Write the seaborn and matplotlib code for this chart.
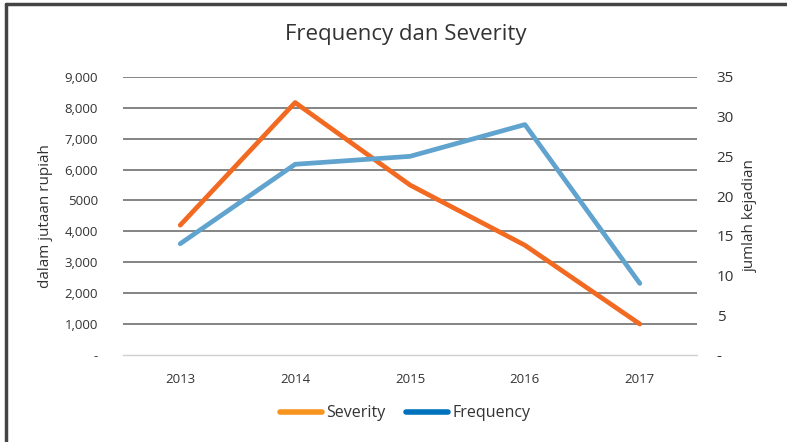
# Frequency dan Severity chart

import numpy as np
import pandas as pd
import matplotlib.pyplot as plt
import seaborn as sns
from matplotlib.lines import Line2D

# Data
years = ['2013', '2014', '2015', '2016', '2017']
severity = [4200, 8170, 5500, 3550, 1000]     # dalam jutaan rupiah
frequency = [14, 24, 25, 29, 9]               # jumlah kejadian

left_ticks = [0, 1000, 2000, 3000, 4000, 5000, 6000, 7000, 8000, 9000]
left_labels = ['-', '1,000', '2,000', '3,000', '4,000', '5000',
               '6,000', '7,000', '8,000', '9,000']
right_ticks = [0, 5, 10, 15, 20, 25, 30, 35]
right_labels = ['-', '5', '10', '15', '20', '25', '30', '35']

df = pd.DataFrame({'year': years, 'severity': severity, 'frequency': frequency})

sns.set_style('white')
plt.rcParams['font.family'] = ['Open Sans', 'DejaVu Sans']

fig = plt.figure(figsize=(7.87, 4.42), dpi=100)
ax = fig.add_axes([0.156, 0.197, 0.730, 0.629])
ax2 = ax.twinx()

sns.lineplot(data=df, x='year', y='severity', ax=ax, color='#F26A21',
             linewidth=3.4, sort=False)
sns.lineplot(data=df, x='year', y='frequency', ax=ax2, color='#5FA3CE',
             linewidth=3.4, sort=False)

ax.set_xlim(-0.5, 4.5)
ax.set_ylim(0, 9000)
ax2.set_ylim(0, 35)

ax.set_yticks(left_ticks)
ax.set_yticklabels(left_labels)
ax2.set_yticks(right_ticks)
ax2.set_yticklabels(right_labels)

# gridlines from the left axis
for t in left_ticks[1:]:
    ax.axhline(t, color='#6f6f6f', linewidth=1.2, zorder=0)

for a in (ax, ax2):
    for s in a.spines.values():
        s.set_visible(False)
ax.spines['bottom'].set_visible(True)
ax.spines['bottom'].set_color('#d0d0d0')
ax.spines['bottom'].set_linewidth(1.0)

ax.set_xticks(np.arange(len(years)))
ax.set_xticklabels(years)
ax.set_xticks(np.arange(-0.5, len(years), 1.0), minor=True)
ax.tick_params(axis='x', which='major', length=0, pad=13, labelsize=9.5, colors='#333333')
ax.tick_params(axis='x', which='minor', length=4, color='#d0d0d0', direction='out')
ax.tick_params(axis='y', length=0, pad=18, labelsize=9.5, colors='#333333')
ax2.tick_params(axis='y', length=0, pad=14, labelsize=11, colors='#333333')

ax.set_xlabel('')
ax.set_ylabel('dalam jutaan rupiah', fontsize=11, color='#333333', labelpad=8)
ax2.set_ylabel('jumlah kejadian', fontsize=11, color='#333333', labelpad=6)

fig.suptitle('Frequency dan Severity', x=0.515, y=0.945, fontsize=16, color='#333333')

handles = [Line2D([0], [0], color='#F7941D', linewidth=4),
           Line2D([0], [0], color='#0072BC', linewidth=4)]
fig.legend(handles, ['Severity', 'Frequency'], loc='center', ncol=2,
           bbox_to_anchor=(0.515, 0.065), frameon=False, fontsize=11.5,
           handlelength=2.6, handletextpad=0.3, columnspacing=1.3,
           labelcolor='#333333')

# frame on the left and top edge
fig.add_artist(Line2D([0.007, 0.007], [0, 0.99], transform=fig.transFigure,
                      color='#444444', linewidth=2.5))
fig.add_artist(Line2D([0.007, 1.0], [0.99, 0.99], transform=fig.transFigure,
                      color='#444444', linewidth=2.5))

fig.savefig('out.png', dpi=100)
